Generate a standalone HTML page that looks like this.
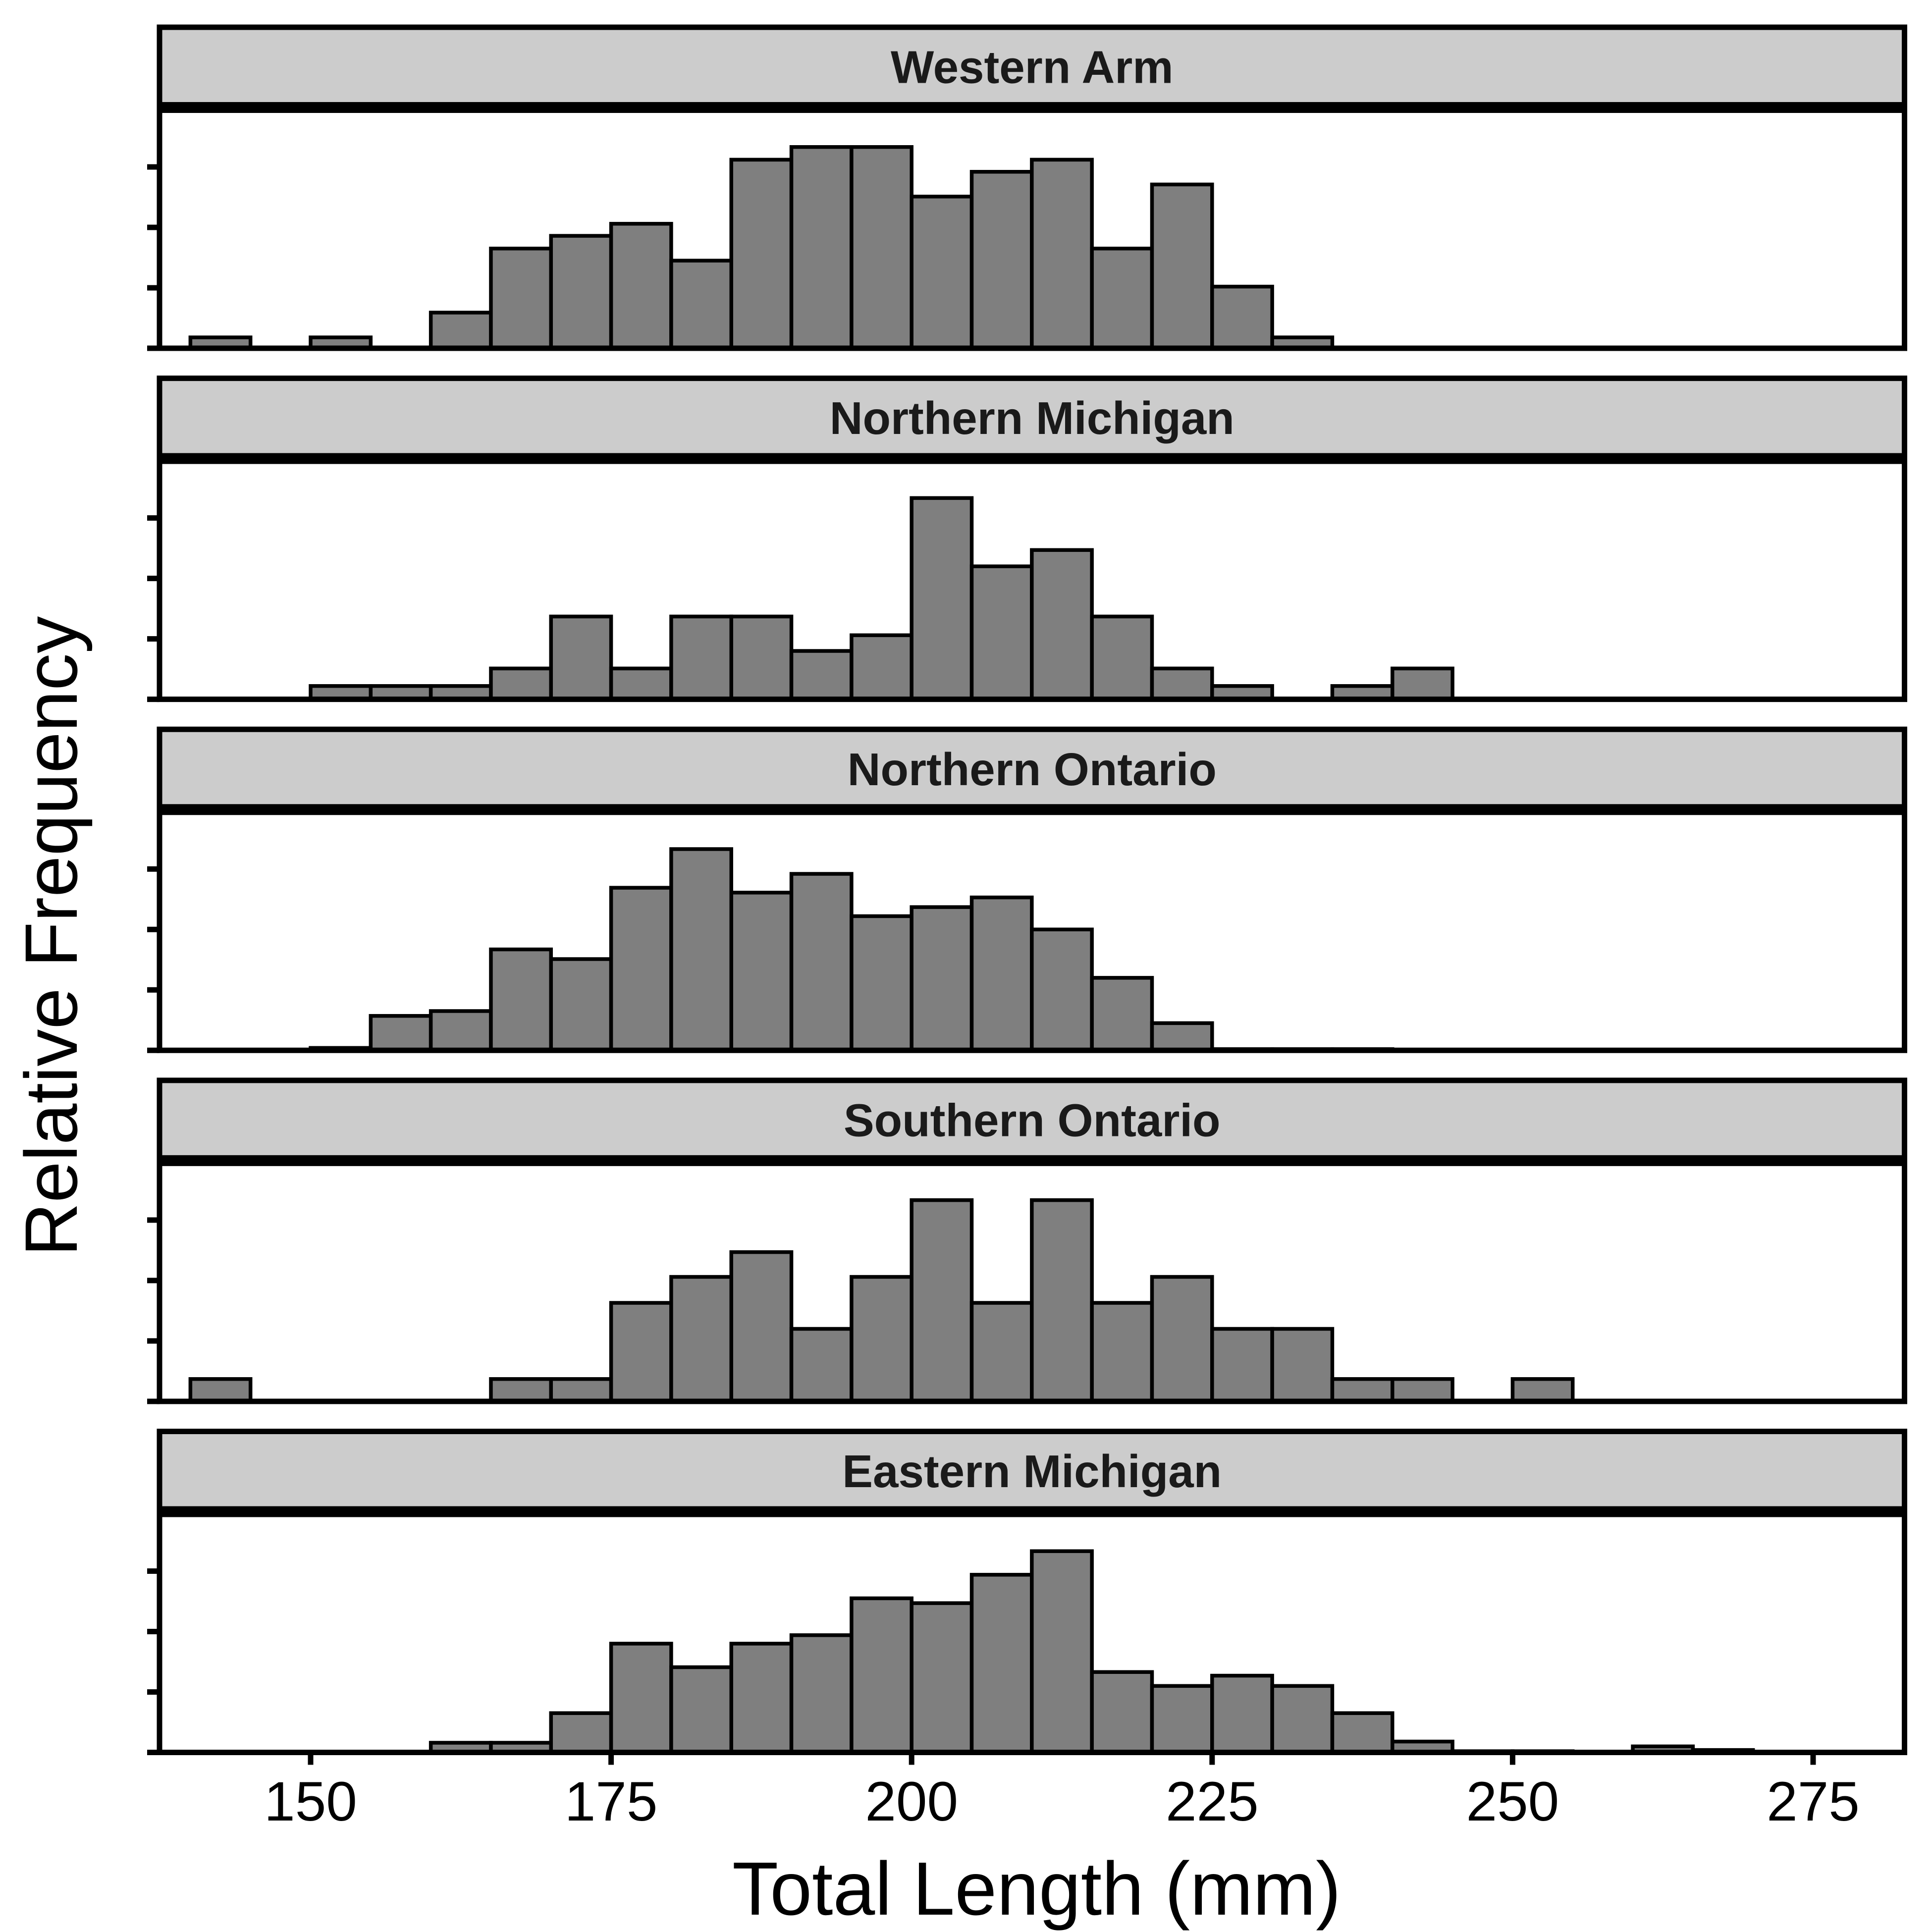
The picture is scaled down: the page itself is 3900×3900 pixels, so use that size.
<!DOCTYPE html>
<html><head><meta charset="utf-8"><style>html,body{margin:0;padding:0;background:#fff}svg{display:block}</style></head>
<body>
<svg id="chart" xmlns="http://www.w3.org/2000/svg" width="3900" height="3900" viewBox="0 0 1560 1560" font-family="Liberation Sans, Arial, sans-serif"></svg>
<script>
const panelNames = ["Western Arm","Northern Michigan","Northern Ontario","Southern Ontario","Eastern Michigan"];
const binStarts = [140,145,150,155,160,165,170,175,180,185,190,195,200,205,210,215,220,225,230,235,240,245,250,255,260,265];
const westernArm = [0.18,0,0.18,0,0.59,1.65,1.86,2.06,1.45,3.12,3.33,3.33,2.51,2.92,3.12,1.65,2.71,1.02,0.18,0,0,0,0,0,0,0];
const northernMichigan = [0,0,0.22,0.22,0.22,0.51,1.37,0.51,1.37,1.37,0.8,1.06,3.33,2.2,2.47,1.37,0.51,0.22,0,0.22,0.51,0,0,0,0,0];
const northernOntario = [0,0,0.04,0.57,0.65,1.67,1.51,2.69,3.33,2.61,2.92,2.22,2.37,2.53,2.0,1.2,0.45,0.02,0.02,0.02,0,0,0,0,0,0];
const southernOntario = [0.37,0,0,0,0,0.37,0.37,1.63,2.06,2.47,1.2,2.06,3.33,1.63,3.33,1.63,2.06,1.2,1.2,0.37,0.37,0,0.37,0,0,0];
const easternMichigan = [0,0,0,0,0.16,0.16,0.65,1.8,1.41,1.8,1.94,2.55,2.47,2.94,3.33,1.33,1.1,1.27,1.1,0.65,0.18,0.02,0.02,0,0.1,0.04];
const seriesList = [westernArm,northernMichigan,northernOntario,southernOntario,easternMichigan];
const xTicks = [150,175,200,225,250,275];
const yTicks = [0,1,2,3];
const binWidth = 5;

const NS="http://www.w3.org/2000/svg";
const svg=document.getElementById('chart');
function mk(tag,attrs,parent){const e=document.createElementNS(NS,tag);for(const k in attrs)e.setAttribute(k,attrs[k]);(parent||svg).appendChild(e);return e;}
const L=128.8,R=1537.8;
const xScale=v=>250.8+(v-150)*(1464-250.8)/125;
const pitch=283.45, firstBottom=281.2;
const unitPx=48.8;

panelNames.forEach((name,i)=>{
  const g=mk('g',{});
  
  
  const pb=firstBottom+i*pitch, st=pb-259.2, sb=st+64.8;
  const yScale=v=>pb-v*unitPx;
  const strip=mk('rect',{x:L,y:st,width:R-L,height:sb-st,fill:'#cccccc',stroke:'#000','stroke-width':4.4},g);
  
  
  const title=mk('text',{x:(L+R)/2,y:st+45,'text-anchor':'middle','font-size':37,'font-weight':'bold',fill:'#1a1a1a'},g);
  title.textContent=name;
  
  
  seriesList[i].forEach((v,j)=>{
    if(v<=0)return;
    const x0=xScale(binStarts[j]),x1=xScale(binStarts[j]+binWidth);
    const b=mk('rect',{x:x0,y:yScale(v),width:x1-x0,height:pb-yScale(v),fill:'#7f7f7f',stroke:'#000','stroke-width':3},g);
    
    
  });
  const frame=mk('rect',{x:L,y:sb,width:R-L,height:pb-sb,fill:'none',stroke:'#000','stroke-width':4.4},g);
  
  
  mk('line',{x1:L-2.2,x2:R+2.2,y1:sb,y2:sb,stroke:'#000','stroke-width':8.8},g);
  yTicks.forEach(t=>{
    const tk=mk('line',{x1:L-10,x2:L,y1:yScale(t),y2:yScale(t),stroke:'#000','stroke-width':4.4},g);
    
    
  });
  if(i===4){
    xTicks.forEach(t=>{
      const tk=mk('line',{x1:xScale(t),x2:xScale(t),y1:pb,y2:pb+10,stroke:'#000','stroke-width':4.4},g);
      
      
      const tl=mk('text',{x:xScale(t),y:1470,'text-anchor':'middle','font-size':45,fill:'#000'},g);
      tl.textContent=t;
      
      
    });
  }
});
const xt=mk('text',{x:837,y:1546,'text-anchor':'middle','font-size':61,fill:'#000'});
xt.textContent='Total Length (mm)';


const yt=mk('text',{x:0,y:0,'text-anchor':'middle','font-size':60,fill:'#000',transform:'translate(62,756) rotate(-90)'});
yt.textContent='Relative Frequency';


</script>
</body></html>
